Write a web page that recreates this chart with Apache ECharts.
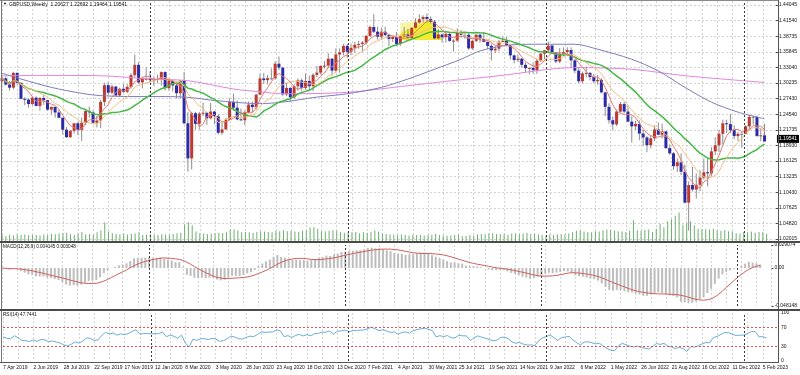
<!DOCTYPE html>
<html><head><meta charset="utf-8">
<script src="https://cdn.jsdelivr.net/npm/echarts@6/dist/echarts.min.js"></script>
<style>html,body{margin:0;padding:0;background:#fff}#c{width:800px;height:375px}</style>
</head><body><div id="c"></div>
<script>
// ---------------- data ----------------
const symbolName = 'GBPUSD,Weekly';
const firstWeekUTC = Date.UTC(2019, 3, 7);
const slotCount = 205; // 202 weekly bars + small right margin

const open = [
1.3035,1.3087,1.2975,1.2920,1.3185,1.3005,1.2720,1.2705,1.2625,1.2740,
1.2590,1.2735,1.2695,1.2525,1.2575,1.2475,1.2380,1.2165,1.2030,1.2145,
1.2280,1.2160,1.2290,1.2500,1.2475,1.2290,1.2330,1.2665,1.2965,1.2830,
1.2940,1.2780,1.2900,1.2845,1.2935,1.3145,1.3330,1.3015,1.3075,1.3080,
1.3060,1.3070,1.3075,1.3200,1.2910,1.3045,1.2960,1.2820,1.3045,1.2280,
1.1650,1.2460,1.2270,1.2455,1.2470,1.2370,1.2490,1.2405,1.2110,1.2170,
1.2345,1.2665,1.2560,1.2350,1.2335,1.2475,1.2615,1.2570,1.2795,1.3085,
1.3055,1.3090,1.3090,1.3350,1.3280,1.2800,1.2915,1.2745,1.2945,1.3050,
1.2915,1.3040,1.2945,1.3150,1.3190,1.3310,1.3315,1.3440,1.3225,1.3515,
1.3555,1.3670,1.3565,1.3635,1.3690,1.3705,1.3730,1.3850,1.4010,1.3925,
1.3835,1.3925,1.3865,1.3795,1.3830,1.3705,1.3840,1.3875,1.3815,1.3995,
1.4090,1.4150,1.4190,1.4155,1.4105,1.3805,1.3875,1.3825,1.3885,1.3760,
1.3765,1.3905,1.3870,1.3870,1.3625,1.3760,1.3870,1.3795,1.3740,1.3670,
1.3590,1.3620,1.3745,1.3760,1.3680,1.3500,1.3415,1.3440,1.3330,1.3270,
1.3275,1.3235,1.3405,1.3530,1.3590,1.3675,1.3550,1.3390,1.3530,1.3560,
1.3595,1.3410,1.3225,1.3035,1.3175,1.3185,1.3110,1.3035,1.3060,1.2835,
1.2575,1.2335,1.2260,1.2490,1.2625,1.2490,1.2310,1.2225,1.2270,1.2095,
1.2025,1.1885,1.2010,1.2170,1.2075,1.2135,1.1835,1.1740,1.1510,1.1580,
1.1410,1.0855,1.1170,1.1090,1.1175,1.1305,1.1400,1.1380,1.1775,1.1885,
1.2090,1.2280,1.2265,1.2155,1.2050,1.2090,1.2090,1.2225,1.2395,1.2395,
1.2050,1.20627];
const high = [
1.3132,1.3120,1.3040,1.3200,1.3195,1.3020,1.2750,1.2730,1.2765,1.2765,
1.2750,1.2785,1.2700,1.2580,1.2580,1.2520,1.2385,1.2210,1.2160,1.2285,
1.2310,1.2385,1.2510,1.2580,1.2510,1.2410,1.2705,1.3010,1.3015,1.2975,
1.2950,1.2920,1.2985,1.2980,1.3180,1.3515,1.3380,1.3120,1.3285,1.3215,
1.3120,1.3155,1.3210,1.3215,1.3070,1.3070,1.3010,1.3055,1.3200,1.2480,
1.2485,1.2485,1.2485,1.2650,1.2480,1.2645,1.2500,1.2440,1.2295,1.2375,
1.2730,1.2815,1.2690,1.2545,1.2515,1.2670,1.2670,1.2810,1.3170,1.3185,
1.3145,1.3265,1.3395,1.3480,1.3285,1.3010,1.2930,1.2980,1.3085,1.3085,
1.3175,1.3140,1.3180,1.3310,1.3320,1.3400,1.3540,1.3450,1.3625,1.3625,
1.3705,1.3705,1.3710,1.3745,1.3760,1.3760,1.3865,1.4035,1.4240,1.4015,
1.4000,1.4015,1.3880,1.3850,1.3920,1.3845,1.4010,1.3975,1.4005,1.4165,
1.4235,1.4220,1.4250,1.4200,1.4135,1.3975,1.3890,1.3910,1.3910,1.3790,
1.3985,1.3955,1.3895,1.3890,1.3785,1.3890,1.3890,1.3915,1.3750,1.3710,
1.3675,1.3775,1.3835,1.3830,1.3700,1.3515,1.3515,1.3450,1.3375,1.3285,
1.3375,1.3440,1.3545,1.3600,1.3750,1.3685,1.3555,1.3630,1.3645,1.3645,
1.3645,1.3440,1.3275,1.3210,1.3300,1.3200,1.3165,1.3150,1.3090,1.2840,
1.2640,1.2405,1.2525,1.2665,1.2665,1.2600,1.2405,1.2325,1.2330,1.2165,
1.2050,1.2065,1.2245,1.2295,1.2275,1.2140,1.1900,1.1765,1.1650,1.1740,
1.1540,1.1235,1.1495,1.1380,1.1440,1.1645,1.1640,1.1855,1.2030,1.2155,
1.2345,1.2345,1.2445,1.2240,1.2125,1.2125,1.2245,1.2435,1.2420,1.2415,
1.2195,1.22692];
const low = [
1.3030,1.2960,1.2865,1.2890,1.2970,1.2710,1.2605,1.2560,1.2600,1.2585,
1.2505,1.2610,1.2505,1.2440,1.2380,1.2370,1.2080,1.2015,1.2015,1.2095,
1.2070,1.1960,1.2245,1.2380,1.2270,1.2205,1.2195,1.2590,1.2780,1.2800,
1.2765,1.2765,1.2825,1.2820,1.2905,1.3105,1.2990,1.2905,1.3050,1.3010,
1.2955,1.3000,1.2955,1.2870,1.2870,1.2850,1.2725,1.2725,1.2260,1.1410,
1.1450,1.2165,1.2165,1.2410,1.2250,1.2350,1.2265,1.2075,1.2075,1.2160,
1.2335,1.2505,1.2335,1.2330,1.2250,1.2460,1.2480,1.2525,1.2785,1.2985,
1.2980,1.3060,1.3060,1.3235,1.2765,1.2765,1.2675,1.2720,1.2865,1.2865,
1.2880,1.2855,1.2855,1.3105,1.3155,1.3260,1.3290,1.3135,1.3190,1.3190,
1.3500,1.3450,1.3500,1.3545,1.3620,1.3565,1.3690,1.3830,1.3900,1.3780,
1.3780,1.3840,1.3670,1.3740,1.3670,1.3670,1.3830,1.3800,1.3800,1.3985,
1.4070,1.4090,1.4085,1.4075,1.3790,1.3785,1.3730,1.3730,1.3745,1.3570,
1.3745,1.3820,1.3800,1.3600,1.3600,1.3735,1.3725,1.3735,1.3610,1.3410,
1.3540,1.3570,1.3740,1.3660,1.3425,1.3355,1.3380,1.3280,1.3195,1.3160,
1.3170,1.3165,1.3380,1.3430,1.3560,1.3540,1.3360,1.3360,1.3490,1.3485,
1.3270,1.3180,1.3000,1.3000,1.3105,1.3050,1.3000,1.2975,1.2820,1.2410,
1.2275,1.2155,1.2230,1.2470,1.2460,1.2300,1.1935,1.2160,1.1975,1.1875,
1.1760,1.1830,1.1960,1.2065,1.2005,1.1815,1.1715,1.1445,1.1405,1.1350,
1.0840,1.0350,1.1055,1.0925,1.1060,1.1265,1.1145,1.1335,1.1710,1.1765,
1.1900,1.2105,1.2105,1.1990,1.1960,1.1840,1.2085,1.2160,1.2260,1.2040,
1.1960,1.19464];
const close = [
1.3087,1.2975,1.2920,1.3185,1.3005,1.2720,1.2705,1.2625,1.2740,1.2590,
1.2735,1.2695,1.2525,1.2575,1.2475,1.2380,1.2165,1.2030,1.2145,1.2280,
1.2160,1.2290,1.2500,1.2475,1.2290,1.2330,1.2665,1.2965,1.2830,1.2940,
1.2780,1.2900,1.2845,1.2935,1.3145,1.3330,1.3015,1.3075,1.3080,1.3060,
1.3070,1.3075,1.3200,1.2910,1.3045,1.2960,1.2820,1.3045,1.2280,1.1650,
1.2460,1.2270,1.2455,1.2470,1.2370,1.2490,1.2405,1.2110,1.2170,1.2345,
1.2665,1.2560,1.2350,1.2335,1.2475,1.2615,1.2570,1.2795,1.3085,1.3055,
1.3090,1.3090,1.3350,1.3280,1.2800,1.2915,1.2745,1.2945,1.3050,1.2915,
1.3040,1.2945,1.3150,1.3190,1.3310,1.3315,1.3440,1.3225,1.3515,1.3555,
1.3670,1.3565,1.3635,1.3690,1.3705,1.3730,1.3850,1.4010,1.3925,1.3835,
1.3925,1.3865,1.3795,1.3830,1.3705,1.3840,1.3875,1.3815,1.3995,1.4090,
1.4150,1.4190,1.4155,1.4105,1.3805,1.3875,1.3825,1.3885,1.3760,1.3765,
1.3905,1.3870,1.3870,1.3625,1.3760,1.3870,1.3795,1.3740,1.3670,1.3590,
1.3620,1.3745,1.3760,1.3680,1.3500,1.3415,1.3440,1.3330,1.3270,1.3275,
1.3235,1.3405,1.3530,1.3590,1.3675,1.3550,1.3390,1.3530,1.3560,1.3595,
1.3410,1.3225,1.3035,1.3175,1.3185,1.3110,1.3035,1.3060,1.2835,1.2575,
1.2335,1.2260,1.2490,1.2625,1.2490,1.2310,1.2225,1.2270,1.2095,1.2025,
1.1885,1.2010,1.2170,1.2075,1.2135,1.1835,1.1740,1.1510,1.1580,1.1410,
1.0855,1.1170,1.1090,1.1175,1.1305,1.1400,1.1380,1.1775,1.1885,1.2090,
1.2280,1.2265,1.2155,1.2050,1.2090,1.2090,1.2225,1.2395,1.2395,1.2050,
1.2063,1.19541];
const volume = [
30,26,32,28,34,30,33,29,31,30,
28,33,30,35,34,38,40,42,36,32,
38,46,34,36,32,45,55,95,48,40,
36,34,38,33,35,38,44,30,32,35,
32,30,34,33,31,36,40,42,85,95,
80,48,40,38,36,38,40,42,40,45,
58,60,55,44,46,44,42,46,50,48,
46,44,52,50,55,50,52,48,46,52,
55,68,70,62,50,48,52,55,52,45,
42,48,44,46,40,44,42,46,55,48,
40,36,34,32,30,33,30,28,32,30,
31,28,30,32,36,30,28,27,28,30,
32,26,25,30,28,34,36,34,38,40,
36,34,36,32,38,40,36,38,42,36,
38,34,30,28,32,30,34,36,33,38,
44,52,55,48,46,44,50,48,55,58,
56,54,50,48,46,52,105,55,52,56,
58,46,62,88,70,100,110,128,145,82,
90,100,80,62,60,60,58,62,55,52,
56,50,48,40,38,46,44,48,42,46,
44,35];
// slow moving averages at sample bars: [bar, price]
const ma60Pts = [[0,1.318],[5,1.3075],[13,1.2925],[21,1.2818],[26,1.2777],[34,1.276],[43,1.276],[49,1.2746],[56,1.269],[68,1.2633],[74,1.266],[83,1.275],[91,1.281],[100,1.2925],[107,1.3075],[114,1.325],[121,1.343],[126,1.358],[133,1.368],[140,1.370],[151,1.370],[157,1.361],[166,1.343],[173,1.322],[180,1.2925],[187,1.266],[194,1.248],[201,1.236]];
const ma100Pts = [[0,1.3134],[13,1.3140],[26,1.3134],[39,1.3075],[49,1.3045],[61,1.2896],[68,1.2845],[74,1.281],[91,1.2836],[107,1.2955],[118,1.304],[131,1.3134],[151,1.328],[166,1.325],[180,1.3134],[201,1.3014]];
// drawn object (yellow triangle) in chart units [bar, price]
const yellowPale = [[104.9,1.4081],[113.3,1.4153],[104.9,1.3902]];
const yellowSolid = [[104.9,1.3776],[104.9,1.3902],[113.3,1.4153],[115.6,1.3794],[115.6,1.3776]];

const tickLabels = ['7 Apr 2019','2 Jun 2019','28 Jul 2019','22 Sep 2019','17 Nov 2019','12 Jan 2020','8 Mar 2020','3 May 2020','28 Jun 2020','23 Aug 2020','18 Oct 2020','13 Dec 2020','7 Feb 2021','4 Apr 2021','30 May 2021','25 Jul 2021','19 Sep 2021','14 Nov 2021','9 Jan 2022','6 Mar 2022','1 May 2022','26 Jun 2022','21 Aug 2022','16 Oct 2022','11 Dec 2022','5 Feb 2023'];
const priceLabels = ['1.02015','1.04820','1.07625','1.10430','1.13235','1.16125','1.18930','1.21735','1.24540','1.27430','1.30235','1.33040','1.35845','1.38735','1.41540','1.44045'];
const macdLabels = ['-0.048148','0.00','0.029074'];
const rsiLabels = ['0','30','70','100'];
const rsiLevels = [70, 30];
const macdTitle = 'MACD(12,26,9) 0.004145 0.003048';
const rsiTitle = 'RSI(14) 47.7441';

// ---------------- derived tables ----------------
const cats = Array.from({length: slotCount}, (_, i) => new Date(firstWeekUTC + i * 604800000).toISOString().slice(0, 10));
const yearStarts = cats.map((c, i) => i > 0 && c.slice(0,4) !== cats[i-1].slice(0,4) ? c : null).filter(Boolean);
const sma = n => close.map((_, i) => { const s = Math.max(0, i - n + 1); let t = 0; for (let j = s; j <= i; j++) t += close[j]; return t / (i - s + 1); });
const ema = n => { const k = 2 / (n + 1); const out = []; let e = close[0]; close.forEach((c, i) => { e = i === 0 ? c : c * k + e * (1 - k); out.push(e); }); return out; };
const e12 = ema(12), e26 = ema(26);
const macdMain = close.map((_, i) => e12[i] - e26[i]);
const macdSignal = macdMain.map((_, i) => { const s = Math.max(0, i - 8); const w = macdMain.slice(s, i + 1); return w.reduce((a, b) => a + b, 0) / w.length; });
const rsi = []; { let ag = 0.008, al = 0.008; close.forEach((c, i) => { if (i > 0) { const d = c - close[i-1]; ag = (ag * 13 + Math.max(d, 0)) / 14; al = (al * 13 + Math.max(-d, 0)) / 14; } rsi.push(100 - 100 / (1 + ag / al)); }); }
const candles = close.map((c, i) => [i, open[i], c, low[i], high[i]]);
const last = close.length - 1;

const priceMin = +priceLabels[0], priceMax = +priceLabels[priceLabels.length - 1];
const priceStep = (priceMax - priceMin) / (priceLabels.length - 1);
const macdMin = +macdLabels[0], macdMax = +macdLabels[2];

const FONT = '"Liberation Sans", Arial, sans-serif';
const gridLine = {color: '#d3d3d3', type: [2, 2], width: 1};
const L = 2, R = 22;
const sepStyle = {color: '#3a3a3a', type: [2, 2], width: 1};
const sepLine = {silent: true, symbol: 'none', animation: false, label: {show: false}, lineStyle: sepStyle, data: yearStarts.map(c => ({xAxis: c}))};

const xAxisBase = (gi, split) => ({type: 'category', gridIndex: gi, data: cats, boundaryGap: false,
  axisLine: {show: false}, axisTick: {show: false}, axisLabel: {show: false},
  splitLine: {show: split, interval: idx => idx % 4 === 0, lineStyle: gridLine}});
const xAxes = [xAxisBase(0, false), xAxisBase(1, true), xAxisBase(2, true), xAxisBase(3, true)];
xAxes[3].axisLabel = {show: true, interval: idx => idx % 8 === 0, formatter: (v, idx) => tickLabels[idx / 8] || '',
  align: 'left', margin: 4, fontSize: 5, color: '#111', fontFamily: FONT};

const axisLbl = {fontSize: 5, margin: 3, color: '#111', fontFamily: FONT};
const option = {
  animation: false,
  textStyle: {fontFamily: FONT},
  grid: [
    {left: L, right: R, top: 5, height: 234},
    {left: L, right: R, top: 1, height: 240},
    {left: L, right: R, top: 245, height: 61},
    {left: L, right: R, top: 313, height: 48}
  ],
  xAxis: xAxes,
  yAxis: [
    {type: 'value', gridIndex: 0, position: 'right', min: priceMin, max: priceMax, interval: priceStep,
     axisLine: {show: false}, axisTick: {show: true, length: 2, lineStyle: {color: '#444'}},
     axisLabel: Object.assign({formatter: v => priceLabels[Math.round((v - priceMin) / priceStep)] || ''}, axisLbl),
     splitLine: {show: true, lineStyle: gridLine}},
    {type: 'value', gridIndex: 1, min: 0, max: 1220, show: false, splitLine: {show: false}},
    {type: 'value', gridIndex: 2, position: 'right', min: macdMin, max: macdMax, interval: -macdMin,
     axisLine: {show: false}, axisTick: {show: true, length: 2, lineStyle: {color: '#444'}},
     axisLabel: Object.assign({formatter: v => Math.abs(v) < 1e-9 ? macdLabels[1] : (v < 0 ? macdLabels[0] : macdLabels[2])}, axisLbl),
     splitLine: {show: false}},
    {type: 'value', gridIndex: 3, position: 'right', min: 0, max: 100, interval: 10,
     axisLine: {show: false}, axisTick: {show: false},
     axisLabel: Object.assign({formatter: v => rsiLabels.includes(String(v)) ? String(v) : ''}, axisLbl),
     splitLine: {show: false}}
  ],
  series: [
    {type: 'custom', name: 'object', xAxisIndex: 0, yAxisIndex: 0, z: 1, silent: true,
     data: [[110, 1.39]], encode: {x: 0, y: 1},
     renderItem: (p, api) => ({type: 'group', children: [
       {type: 'polygon', shape: {points: yellowPale.map(q => api.coord(q))}, style: {fill: '#f8f4a6'}},
       {type: 'polygon', shape: {points: yellowSolid.map(q => api.coord(q))}, style: {fill: '#f2ea2e'}}
     ]})},
    {type: 'custom', name: symbolName, xAxisIndex: 0, yAxisIndex: 0, z: 2, silent: true,
     data: candles, encode: {x: 0, y: [1, 2, 3, 4]},
     renderItem: (p, api) => {
       const i = api.value(0), o = api.value(1), c = api.value(2), l = api.value(3), h = api.value(4);
       const pO = api.coord([i, o]), pC = api.coord([i, c]), pL = api.coord([i, l]), pH = api.coord([i, h]);
       const w = 3, x = pO[0];
       const top = Math.min(pO[1], pC[1]), bh = Math.max(1, Math.abs(pO[1] - pC[1]));
       const fill = c > o ? '#bd3a31' : (c < o ? '#2b2ba8' : '#888');
       return {type: 'group', children: [
         {type: 'line', shape: {x1: x, y1: pH[1], x2: x, y2: pL[1]}, style: {stroke: '#8d8d8d', lineWidth: 1}},
         {type: 'rect', shape: {x: x - w / 2, y: top, width: w, height: bh}, style: {fill}}
       ]};
     }},
    {type: 'line', name: 'MA100', xAxisIndex: 0, yAxisIndex: 0, z: 3, data: ma100Pts, showSymbol: false, smooth: 0.3, lineStyle: {color: '#e085e0', width: 1}},
    {type: 'line', name: 'MA60', xAxisIndex: 0, yAxisIndex: 0, z: 3, data: ma60Pts, showSymbol: false, smooth: 0.3, lineStyle: {color: '#7d7dbd', width: 1}},
    {type: 'line', name: 'MA20', xAxisIndex: 0, yAxisIndex: 0, z: 3, data: sma(20), showSymbol: false, lineStyle: {color: '#45b845', width: 1.5},
     markLine: {silent: true, symbol: 'none', animation: false, z: 50,
       lineStyle: {color: 'rgba(0,0,0,0)', width: 1, type: 'solid'},
       label: {show: true, position: 'end', distance: 1, formatter: () => close[last].toFixed(5), color: '#fff', backgroundColor: '#000', fontSize: 5, padding: [2, 2, 1, 2], fontFamily: FONT},
       emphasis: {disabled: true},
       data: [{yAxis: close[last]}]}},
    {type: 'line', name: 'MA10', xAxisIndex: 0, yAxisIndex: 0, z: 3, data: sma(10), showSymbol: false, lineStyle: {color: '#f1bf80', width: 1}},
    {type: 'line', name: 'MA5', xAxisIndex: 0, yAxisIndex: 0, z: 3, data: sma(5), showSymbol: false, lineStyle: {color: '#e27a74', width: 1}},
    {type: 'bar', name: 'Volume', xAxisIndex: 1, yAxisIndex: 1, data: volume, barWidth: 1, itemStyle: {color: '#6fb06f'}, silent: true, markLine: sepLine},
    {type: 'bar', name: 'MACD', xAxisIndex: 2, yAxisIndex: 2, data: macdMain, barWidth: 2, itemStyle: {color: '#bdbdbd'}, silent: true, markLine: sepLine},
    {type: 'line', name: 'Signal', xAxisIndex: 2, yAxisIndex: 2, data: macdSignal, showSymbol: false, lineStyle: {color: '#cf5f5a', width: 1}},
    {type: 'line', name: 'RSI', xAxisIndex: 3, yAxisIndex: 3, data: rsi, showSymbol: false, lineStyle: {color: '#68acd8', width: 1},
     markLine: {silent: true, symbol: 'none', animation: false, label: {show: false},
       data: yearStarts.map(c => ({xAxis: c, lineStyle: sepStyle})).concat(rsiLevels.map(v => ({yAxis: v, lineStyle: {color: '#d9534f', type: [2, 2], width: 1}})))}}
  ],
  graphic: [
    {type: 'line', z: 100, silent: true, shape: {x1: 0, y1: 0.5, x2: 778, y2: 0.5}, style: {stroke: '#8a8a8a', lineWidth: 1}},
    {type: 'line', z: 100, silent: true, shape: {x1: 1.5, y1: 0, x2: 1.5, y2: 363}, style: {stroke: '#777', lineWidth: 1}},
    {type: 'line', z: 100, silent: true, shape: {x1: 778.5, y1: 0, x2: 778.5, y2: 363}, style: {stroke: '#555', lineWidth: 1}},
    {type: 'rect', z: 100, silent: true, shape: {x: 0, y: 241, width: 800, height: 2}, style: {fill: '#4a4a4a'}},
    {type: 'rect', z: 100, silent: true, shape: {x: 0, y: 309, width: 800, height: 2}, style: {fill: '#4a4a4a'}},
    {type: 'line', z: 100, silent: true, shape: {x1: 0, y1: 362.5, x2: 778, y2: 362.5}, style: {stroke: '#555', lineWidth: 1}},
    {type: 'text', z: 100, silent: true, x: 3, y: 2, style: {text: '\u25BC', font: '4px ' + FONT, fill: '#000'}},
    {type: 'text', z: 100, silent: true, x: 9, y: 2, style: {text: symbolName + '  ' + [open[last], high[last], low[last], close[last]].map(v => v.toFixed(5)).join(' '), font: '5px ' + FONT, fill: '#111'}},
    {type: 'text', z: 100, silent: true, x: 3, y: 244, style: {text: macdTitle, font: '4.6px ' + FONT, fill: '#111'}},
    {type: 'text', z: 100, silent: true, x: 3, y: 312, style: {text: rsiTitle, font: '4.6px ' + FONT, fill: '#111'}}
  ]
};
const chart = echarts.init(document.getElementById('c'), null, {renderer: 'canvas'});
chart.setOption(option);
</script></body></html>
